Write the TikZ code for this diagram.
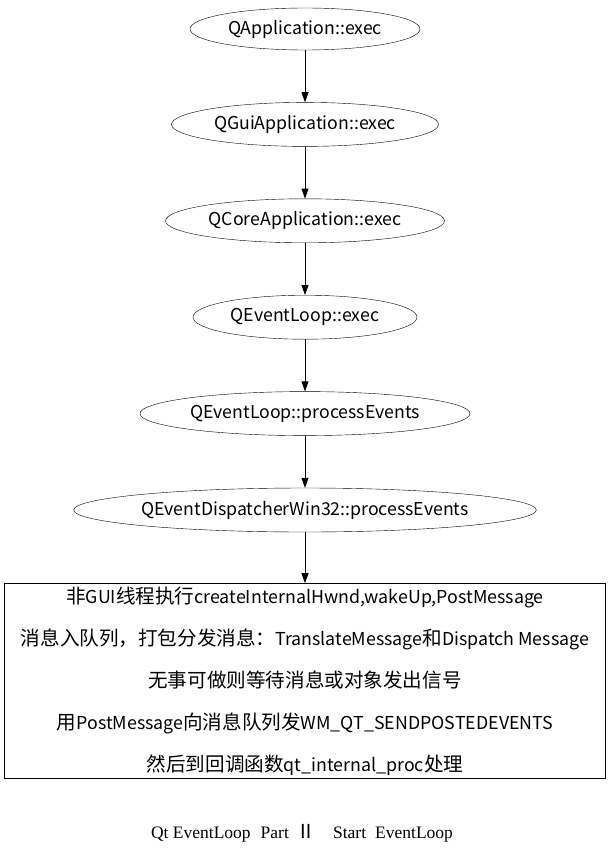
\documentclass[tikz,border=0pt]{standalone}
\usepackage{fontspec}
\setmainfont{Noto Sans CJK SC}
\newfontfamily\zh{Noto Sans CJK SC}[Scale=1.1]
\newfontfamily\capfont{Liberation Serif}
\usetikzlibrary{positioning,shapes.geometric,arrows.meta}

\begin{document}
\begin{tikzpicture}[x=1pt, y=-1pt, node distance=52pt,
    call/.style={draw, ellipse, inner sep=0pt, minimum height=44pt, font=\fontsize{17.7}{20}\selectfont},
    flow/.style={-{Triangle[length=10pt,width=7pt]}, line width=0.8pt}]
    \useasboundingbox (0,0) rectangle (612,856);
    \node[call, minimum width=230pt, minimum height=42pt] (app) at (305,29) {QApplication::exec};
    \node[call, minimum width=267pt, below=of app] (gui) {QGuiApplication::exec};
    \node[call, minimum width=279pt, below=of gui] (core) {QCoreApplication::exec};
    \node[call, minimum width=224pt, below=of core] (loop) {QEventLoop::exec};
    \node[call, minimum width=330pt, below=of loop] (proc) {QEventLoop::processEvents};
    \node[call, minimum width=404pt, below=of proc] (disp) {QEventDispatcherWin32::processEvents};
    \node[draw, rectangle, minimum width=601pt, minimum height=195pt, inner sep=0pt, align=center,
          font=\fontsize{17.8}{42}\selectfont, below=51pt of disp] (win) {%
        {\zh 非}GUI{\zh 线程执行}createInternalHwnd,wakeUp,PostMessage\\
        {\zh 消息入队列，打包分发消息：}TranslateMessage{\zh 和}Dispatch Message\\
        {\zh 无事可做则等待消息或对象发出信号}\\
        {\zh 用}PostMessage{\zh 向消息队列发}WM\_QT\_SENDPOSTEDEVENTS\\
        {\zh 然后到回调函数}qt\_internal\_proc{\zh 处理}};
    \node[font=\capfont\fontsize{17.5}{20}\selectfont] (title) at (302,833)
        {Qt EventLoop\hspace{10pt}Part\hspace{8pt}{\zh Ⅱ}\hspace{17pt}Start\hspace{9pt}EventLoop};
    \draw[flow] (app) -- (gui);
    \draw[flow] (gui) -- (core);
    \draw[flow] (core) -- (loop);
    \draw[flow] (loop) -- (proc);
    \draw[flow] (proc) -- (disp);
    \draw[flow] (disp) -- (win);
\end{tikzpicture}
\end{document}
